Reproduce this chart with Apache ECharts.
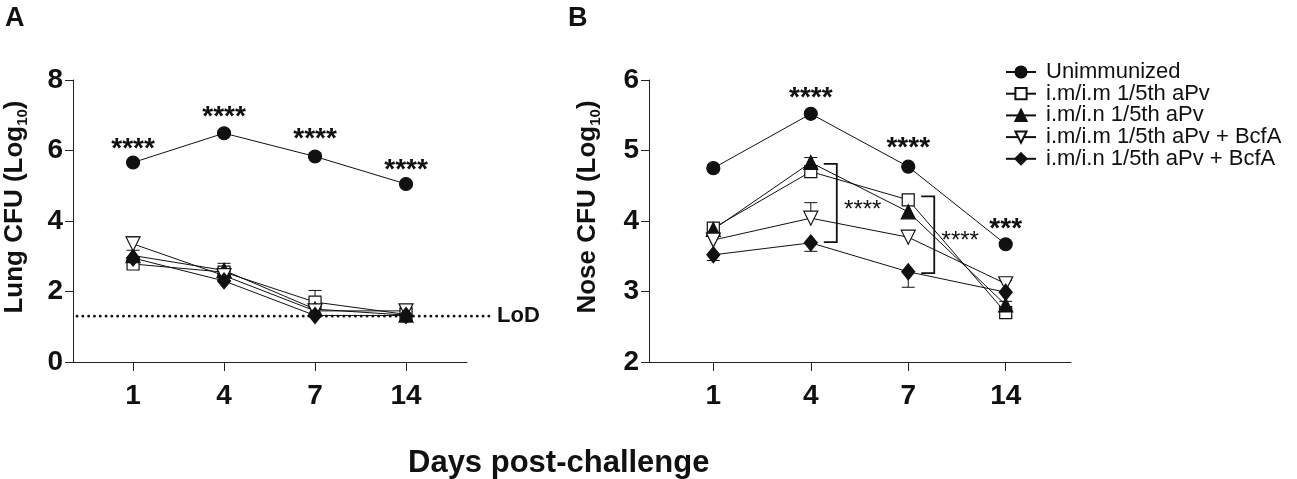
<!DOCTYPE html>
<html>
<head>
<meta charset="utf-8">
<script src="https://cdn.jsdelivr.net/npm/echarts@6/dist/echarts.min.js"></script>
<style>
  html, body { margin: 0; padding: 0; background: #fff; }
  #main { width: 1297px; height: 479px; }
</style>
</head>
<body>
<div id="main"></div>
<script>
// days post-challenge, plotted at positions 1..4
var days = ['1', '4', '7', '14'];
var groups = ['Unimmunized', 'i.m/i.m 1/5th aPv', 'i.m/i.n 1/5th aPv',
              'i.m/i.m 1/5th aPv + BcfA', 'i.m/i.n 1/5th aPv + BcfA'];

// panel A - lung CFU (log10)
var lungUnimm  = [5.66, 6.49, 5.83, 5.05];
var lungImIm   = [2.78, 2.55, 1.70, 1.35];
var lungImIn   = [3.02, 2.60, 1.50, 1.33];
var lungImImB  = [3.35, 2.45, 1.45, 1.45];
var lungImInB  = [2.95, 2.30, 1.32, 1.32];
// one sided error bars (+ up, - down)
var lungErrUnimm = [0, 0, 0.1, 0];
var lungErrImIm  = [0.1, 0.05, 0.33, 0.15];
var lungErrImIn  = [0.15, 0.2, 0.1, 0.1];
var lungErrImImB = [0.2, 0, 0.08, 0.1];
var lungErrImInB = [0, 0, 0, 0];
var lod = 1.3;
var lungStarY = [6.21, 7.12, 6.5, 5.62];
var lungStars = ['****', '****', '****', '****'];

// panel B - nose CFU (log10)
var noseUnimm  = [4.75, 5.52, 4.77, 3.67];
var noseImIm   = [3.90, 4.70, 4.30, 2.70];
var noseImIn   = [3.88, 4.83, 4.13, 2.81];
var noseImImB  = [3.73, 4.04, 3.77, 3.11];
var noseImInB  = [3.52, 3.69, 3.28, 2.99];
var noseErrUnimm = [0, 0, 0, 0];
var noseErrImIm  = [0.04, 0.05, 0.06, -0.05];
var noseErrImIn  = [0, 0.07, 0, 0.05];
var noseErrImImB = [0, 0.22, 0, 0.05];
var noseErrImInB = [-0.08, -0.12, -0.22, 0];
var noseStarX = [2, 3, 4];
var noseStarY = [5.83, 5.11, 3.97];
var noseStars = ['****', '****', '***'];
// brackets: day position, top value, bottom value
var brackets = [[2, 4.81, 3.70], [3, 4.35, 3.26]];
var bracketStars = ['****', '****'];

var FONT = 'Liberation Sans, Arial, sans-serif';
var INK = '#111';

var symbols = [
  { symbol: 'circle', size: 13, fill: INK },
  { symbol: 'rect', size: 12, fill: '#fff' },
  { symbol: 'triangle', size: 14, fill: INK },
  { symbol: 'path://M0,0L10,0L5,9Z', size: 14, fill: '#fff' },
  { symbol: 'diamond', size: [13, 16], fill: INK }
];

function pts(arr) {
  return arr.map(function (v, i) { return [i + 1, v]; });
}

function lineSeries(name, k, data, idx) {
  var s = symbols[k];
  return {
    name: name, type: 'line', xAxisIndex: idx, yAxisIndex: idx,
    data: pts(data),
    symbol: s.symbol, symbolSize: s.size, symbolKeepAspect: false,
    showAllSymbol: true,
    lineStyle: { color: INK, width: 1 },
    itemStyle: { color: s.fill, borderColor: INK, borderWidth: 1.2 },
    emphasis: { disabled: true },
    animation: false
  };
}

function errData(valArrs, errArrs) {
  var out = [];
  valArrs.forEach(function (vals, g) {
    vals.forEach(function (v, i) {
      if (errArrs[g][i] !== 0) out.push([i + 1, v, errArrs[g][i]]);
    });
  });
  return out;
}

function errSeries(idx, data) {
  return {
    type: 'custom', xAxisIndex: idx, yAxisIndex: idx, data: data,
    animation: false, silent: true,
    renderItem: function (params, api) {
      var p0 = api.coord([api.value(0), api.value(1)]);
      var p1 = api.coord([api.value(0), api.value(1) + api.value(2)]);
      var st = { stroke: INK, lineWidth: 1 };
      return { type: 'group', children: [
        { type: 'line', shape: { x1: p0[0], y1: p0[1], x2: p1[0], y2: p1[1] }, style: st },
        { type: 'line', shape: { x1: p1[0] - 6.5, y1: p1[1], x2: p1[0] + 6.5, y2: p1[1] }, style: st }
      ]};
    }
  };
}

// asterisk glyphs sit high in the text box, so nudge the box down a little
function starSeries(idx, xs, ys, texts, size) {
  return {
    type: 'custom', xAxisIndex: idx, yAxisIndex: idx,
    data: xs.map(function (x, i) { return [x, ys[i]]; }),
    animation: false, silent: true,
    renderItem: function (params, api) {
      var p = api.coord([api.value(0), api.value(1)]);
      return { type: 'text', x: p[0], y: p[1] + 6, style: {
        text: texts[params.dataIndex], fill: INK, align: 'center', verticalAlign: 'middle',
        font: 'bold ' + size + 'px ' + FONT } };
    }
  };
}

var xBase = {
  type: 'value', min: 0.34, max: 4.67,
  axisLine: { lineStyle: { color: '#222', width: 1 } },
  axisTick: { customValues: [1, 2, 3, 4], length: 9, lineStyle: { color: '#222' } },
  axisLabel: { customValues: [1, 2, 3, 4], margin: 20, color: INK,
    fontFamily: FONT, fontWeight: 'bold', fontSize: 28,
    formatter: function (v) { return days[Math.round(v) - 1]; } },
  splitLine: { show: false }
};

function yAxis(idx, min, max, step, title, gap) {
  return {
    type: 'value', gridIndex: idx, min: min, max: max, interval: step,
    axisLine: { show: true, lineStyle: { color: '#222', width: 1 } },
    axisTick: { show: true, length: 8, lineStyle: { color: '#222' } },
    axisLabel: { margin: 10, color: INK, fontFamily: FONT, fontWeight: 'bold', fontSize: 28 },
    splitLine: { show: false },
    name: '{t|' + title + ' (Log}{s|10}{t|)}',
    nameLocation: 'middle', nameRotate: 90, nameGap: gap,
    nameTextStyle: { padding: [0, 0, 0, 28], rich: {
      t: { fontFamily: FONT, fontWeight: 'bold', fontSize: 26, color: INK, lineHeight: 30 },
      s: { fontFamily: FONT, fontWeight: 'bold', fontSize: 15, color: INK, verticalAlign: 'bottom', lineHeight: 30 }
    } }
  };
}

var chart = echarts.init(document.getElementById('main'));

var series = [
  errSeries(0, errData([lungUnimm, lungImIm, lungImIn, lungImImB, lungImInB],
    [lungErrUnimm, lungErrImIm, lungErrImIn, lungErrImImB, lungErrImInB])),
  errSeries(1, errData([noseUnimm, noseImIm, noseImIn, noseImImB, noseImInB],
    [noseErrUnimm, noseErrImIm, noseErrImIn, noseErrImImB, noseErrImInB])),
  // limit of detection, dotted line running past the axis end
  {
    type: 'custom', xAxisIndex: 0, yAxisIndex: 0, data: [[lod]],
    animation: false, silent: true, clip: false,
    renderItem: function (params, api) {
      var a = api.coord([0.34, api.value(0)]);
      var b = api.coord([4.67, api.value(0)]);
      return { type: 'group', children: [
        { type: 'line', shape: { x1: a[0] + 4, y1: a[1], x2: b[0] + 24, y2: b[1] },
          style: { stroke: INK, lineWidth: 2.8, lineDash: [0.1, 5.7], lineCap: 'round' } },
        { type: 'text', x: b[0] + 30, y: b[1], style: { text: 'LoD', fill: INK,
          verticalAlign: 'middle', font: 'bold 22px ' + FONT } }
      ]};
    }
  },
  lineSeries(groups[0], 0, lungUnimm, 0),
  lineSeries(groups[1], 1, lungImIm, 0),
  lineSeries(groups[2], 2, lungImIn, 0),
  lineSeries(groups[3], 3, lungImImB, 0),
  lineSeries(groups[4], 4, lungImInB, 0),
  lineSeries(groups[0], 0, noseUnimm, 1),
  lineSeries(groups[1], 1, noseImIm, 1),
  lineSeries(groups[2], 2, noseImIn, 1),
  lineSeries(groups[3], 3, noseImImB, 1),
  lineSeries(groups[4], 4, noseImInB, 1),
  starSeries(0, [1, 2, 3, 4], lungStarY, lungStars, 28),
  starSeries(1, noseStarX, noseStarY, noseStars, 28),
  // significance brackets between groups
  {
    type: 'custom', xAxisIndex: 1, yAxisIndex: 1, data: brackets,
    animation: false, silent: true,
    renderItem: function (params, api) {
      var t = api.coord([api.value(0), api.value(1)]);
      var b = api.coord([api.value(0), api.value(2)]);
      var x0 = t[0] + 13, x1 = t[0] + 26;
      return { type: 'group', children: [
        { type: 'polyline', shape: { points: [[x0, t[1]], [x1, t[1]], [x1, b[1]], [x0, b[1]]] },
          style: { stroke: INK, lineWidth: 1.8, fill: null } },
        { type: 'text', x: x1 + 26, y: (t[1] + b[1]) / 2 + 7, style: {
          text: bracketStars[params.dataIndex], fill: INK, align: 'center', verticalAlign: 'middle',
          font: 'normal 24px ' + FONT } }
      ]};
    }
  }
];

chart.setOption({
  backgroundColor: '#fff',
  animation: false,
  title: [
    { text: 'A', left: 0, top: 0, textStyle: { fontFamily: FONT, fontWeight: 'bold', fontSize: 27, color: INK } },
    { text: 'B', left: 563, top: 0, textStyle: { fontFamily: FONT, fontWeight: 'bold', fontSize: 27, color: INK } },
    { text: 'Days post-challenge', left: 403, top: 443,
      textStyle: { fontFamily: FONT, fontWeight: 'bold', fontSize: 31, color: INK } }
  ],
  legend: {
    data: groups, orient: 'vertical', left: 1000, top: 56,
    itemWidth: 30, itemHeight: 14, itemGap: -0.3,
    textStyle: { fontFamily: FONT, fontSize: 22, color: INK, lineHeight: 20, padding: [0, 0, 0, 5] },
    selectedMode: false
  },
  grid: [
    { left: 73, top: 80, width: 394, height: 282 },
    { left: 649, top: 80, width: 422, height: 282 }
  ],
  xAxis: [
    Object.assign({ gridIndex: 0 }, xBase),
    Object.assign({ gridIndex: 1 }, xBase)
  ],
  yAxis: [
    yAxis(0, 0, 8, 2, 'Lung CFU', 43),
    yAxis(1, 2, 6, 1, 'Nose CFU', 46)
  ],
  series: series
});
</script>
</body>
</html>
